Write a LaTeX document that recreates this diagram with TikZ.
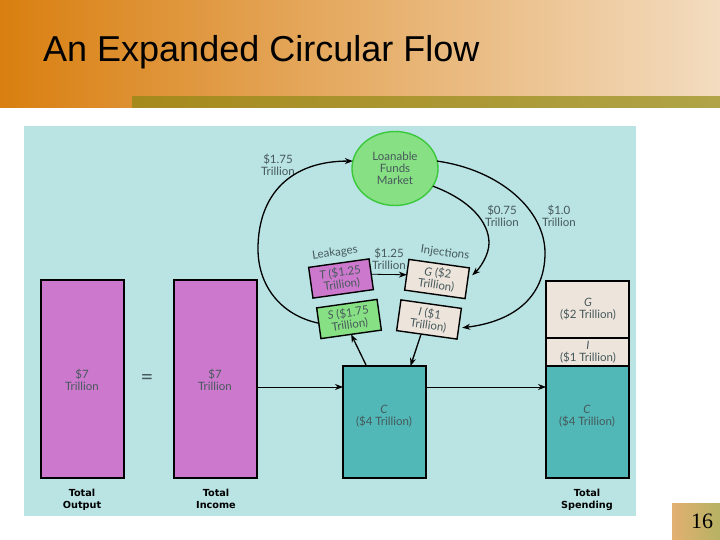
\documentclass[tikz,border=0pt]{standalone}
\usepackage{fontspec}
\usetikzlibrary{positioning, arrows.meta, shapes.geometric}
\newfontfamily\labfont{Lato}
\newfontfamily\titlefont{Liberation Sans}
\newfontfamily\numfont{Liberation Serif}
\newfontfamily\headfont[BoldFont={DejaVu Sans Bold}]{DejaVu Sans}
\definecolor{panelcol}{HTML}{BAE3E3}
\definecolor{purplecol}{HTML}{CC79CD}
\definecolor{tealcol}{HTML}{52B7B7}
\definecolor{creamcol}{HTML}{EDE4DC}
\definecolor{greencol}{HTML}{88E084}
\definecolor{labcol}{HTML}{46595B}
\tikzset{
    databox/.style={draw=black, line width=1.8pt, anchor=north west, inner sep=0pt, outer sep=0pt},
    tiltbox/.style={draw=black, line width=1.4pt, minimum width=61pt, minimum height=31pt, inner sep=0pt, outer sep=0pt, align=center, text=labcol, font=\labfont\fontsize{11.5}{12}\selectfont},
    lab/.style={text=labcol, align=center, inner sep=0pt, font=\labfont\fontsize{11.5}{12}\selectfont},
    totallab/.style={align=center, inner sep=0pt, font=\headfont\bfseries\fontsize{9.7}{12}\selectfont},
    flow/.style={line width=1.3pt, -{Stealth[length=8pt,width=6pt]}},
    thinflow/.style={line width=0.8pt, -{Stealth[length=8pt,width=6pt]}}
}
\begin{document}
\begin{tikzpicture}[x=1pt,y=-1pt]
    \useasboundingbox (0,0) rectangle (720,540);
    \shade[left color={rgb,255:red,217;green,127;blue,16}, middle color={rgb,255:red,221;green,160;blue,96}, right color={rgb,255:red,243;green,220;blue,192}] (0,0) rectangle (720,108);
    \shade[left color={rgb,255:red,166;green,137;blue,28}, right color={rgb,255:red,176;green,164;blue,72}] (132,97) rectangle (720,108);
    \shade[left color={rgb,255:red,226;green,176;blue,114}, right color={rgb,255:red,182;green,178;blue,100}] (672,503) rectangle (720,540);
    \fill[panelcol] (24,126) rectangle (636,516);
    \node[anchor=west, inner sep=0pt, font=\titlefont\fontsize{36}{40}\selectfont] (title) at (43,52) {An Expanded Circular Flow};
    \node[inner sep=0pt, font=\numfont\fontsize{22}{24}\selectfont] (pagenum) at (702,521) {16};
    \foreach \n/\x/\y/\h/\c in {output/41/280/198/purplecol, income/174/280/198/purplecol, mid/343/366/112/tealcol, spendg/546/281/57/creamcol, spendi/546/338/28/creamcol, spendc/546/366/112/tealcol}{%
            \node[databox, fill=\c, minimum width=83pt, minimum height=\h pt] (\n) at (\x,\y) {};
        }
    \node[draw={rgb,255:red,60;green,200;blue,60}, line width=1.4pt, fill=greencol, ellipse, minimum width=86pt, minimum height=74pt, inner sep=0pt, outer sep=0pt, lab] (market) at (395,168.5) {Loanable\\Funds\\Market};
    \node[tiltbox, fill=purplecol, rotate=8] (tbox) at (341,278.5) {{\itshape T} (\$1.25\\Trillion)};
    \node[tiltbox, fill=greencol, rotate=8] (sbox) at (349,319) {{\itshape S} (\$1.75\\Trillion)};
    \node[tiltbox, fill=creamcol, rotate=-8] (gbox) at (437,279) {{\itshape G} (\$2\\Trillion)};
    \node[tiltbox, fill=creamcol, rotate=-8] (ibox) at (429,319.5) {{\itshape I} (\$1\\Trillion)};
    \node[lab, rotate=8] (leak) at (335,253) {Leakages};
    \node[lab, rotate=-8] (inj) at (445,253) {Injections};
    \foreach \n/\x/\y/\t in {a/278/165/{\$1.75\\Trillion}, b/502/216/{\$0.75\\Trillion}, c/559/216/{\$1.0\\Trillion}, d/389/259/{\$1.25\\Trillion}, e/82/380/{\$7\\Trillion}, f/215/380/{\$7\\Trillion}, g/384/416.5/{{\itshape C}\\(\$4 Trillion)}, h/587/416.5/{{\itshape C}\\(\$4 Trillion)}, i/588/309/{{\itshape G}\\(\$2 Trillion)}, j/588/352/{{\itshape I}\\(\$1 Trillion)}}{%
            \node[lab] (lab\n) at (\x,\y) {\t};
        }
    \foreach \n/\x/\t in {a/82/{Total\\Output\strut}, b/216/{Total\\Income\strut}, c/587/{Total\\Spending\strut}}{%
            \node[totallab] (tot\n) at (\x,500.5) {\t};
        }
    \node[inner sep=0pt, text=labcol, font=\labfont\fontsize{22}{24}\selectfont] (eq) at (147,379) {=};
    \draw[flow] (sbox.west) .. controls (280,315) and (258,285) .. (258,249) .. controls (258,195) and (290,161) .. (market.170);
    \draw[flow] (market.-25) .. controls (470,200) and (489,222) .. (489,243) .. controls (489,255) and (480,268) .. ([shift={(5,-8)}]gbox.east);
    \draw[flow] (market.10) .. controls (500,170) and (545,210) .. (545,253) .. controls (545,300) and (510,322) .. ([shift={(3,4)}]ibox.east);
    \draw[thinflow] (tbox.east) -- (gbox.west);
    \draw[flow] ([xshift=-18pt]mid.north) -- (sbox.south);
    \draw[flow] ([xshift=-6pt]ibox.south) -- ([xshift=26pt]mid.north);
    \draw[thinflow] (income.east |- 0,387) -- (mid.west |- 0,387);
    \draw[thinflow] (mid.east |- 0,387) -- (spendc.west |- 0,387);
\end{tikzpicture}
\end{document}
